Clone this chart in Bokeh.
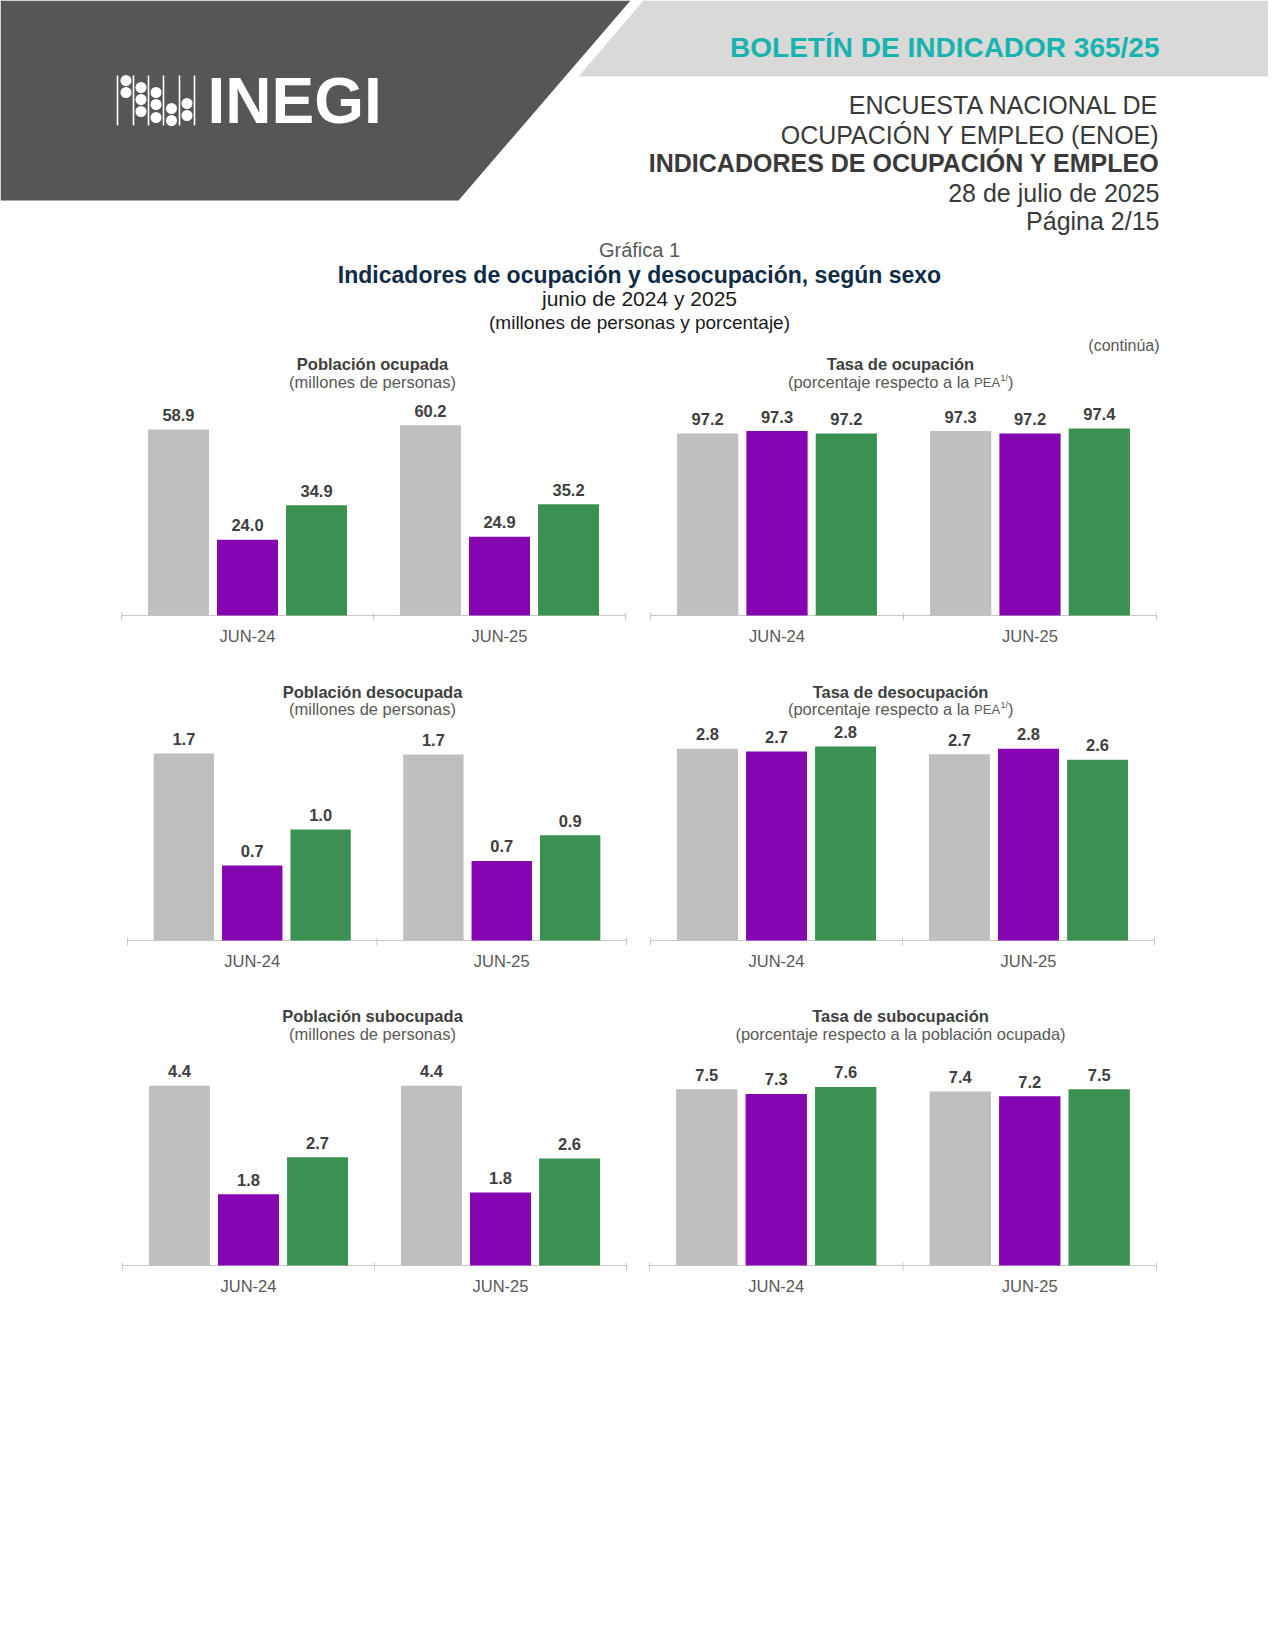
from bokeh.plotting import figure
from bokeh.models import Range1d, FactorRange, Label, ColumnDataSource
from bokeh.transform import dodge
from bokeh.layouts import column, row
from bokeh.core.properties import value
from bokeh.embed import file_html
from bokeh.resources import INLINE

FONT = "Liberation Sans"

# ---------------- data ----------------
periods = ["JUN-24", "JUN-25"]
series_keys = ["total", "mujeres", "hombres"]
series_colors = ["#bfbfbf", "#8505b3", "#3b9152"]

pob_ocupada_total = [58.9, 60.2]
pob_ocupada_mujeres = [24.0, 24.9]
pob_ocupada_hombres = [34.9, 35.2]

tasa_ocupacion_total = [97.2, 97.3]
tasa_ocupacion_mujeres = [97.3, 97.2]
tasa_ocupacion_hombres = [97.2, 97.4]

pob_desocupada_total = [1.67, 1.66]
pob_desocupada_mujeres = [0.67, 0.71]
pob_desocupada_hombres = [0.99, 0.94]

tasa_desocupacion_total = [2.78, 2.70]
tasa_desocupacion_mujeres = [2.74, 2.78]
tasa_desocupacion_hombres = [2.81, 2.62]

pob_subocupada_total = [4.44, 4.44]
pob_subocupada_mujeres = [1.76, 1.80]
pob_subocupada_hombres = [2.67, 2.64]

tasa_subocupacion_total = [7.5, 7.4]
tasa_subocupacion_mujeres = [7.3, 7.2]
tasa_subocupacion_hombres = [7.6, 7.5]

# ---------------- geometry (page pixels) ----------------
HEADER_H = 355
ROW_TOP = [355, 675, 1000]
ROW_AXIS = [615, 940, 1265]
TITLE_DY = [252, 249, 250]     # axis line -> chart title centre
SUB_DY = [234, 232, 232]       # axis line -> chart subtitle centre
BOTTOM = 60
BELOW = 6          # frame extends this far below the axis line (room for ticks)
PAD = 4            # frame extends this far beyond each end of the axis line
FIG_X0 = [0, 630]
FIG_W = [630, 638]
AXIS_LEFT = [[121, 650], [127, 650], [122, 649]]
AXIS_W = [[504, 506], [502, 504], [506, 507]]
TITLE_X = [372, 900]
BAR_W = 0.242
BAR_OFF = [-0.274, 0.0, 0.274]
AX_COLOR = "#c8c8c8"

# Arial/Liberation Sans regular advance widths (per 1000 em)
W = {" ": 278, "(": 333, ")": 333, "/": 278, "1": 556, "a": 556, "c": 500, "e": 556,
     "j": 222, "l": 222, "n": 556, "o": 556, "p": 556, "r": 333, "s": 500, "t": 278,
     "P": 667, "E": 667, "A": 667}


def tw(s, size):
    return sum(W.get(ch, 556) for ch in s) * size / 1000.0


def add_label(p, x, y, text, size, color, bold=False, align="center"):
    p.add_layout(Label(x=x, y=y, x_units="screen", y_units="screen", text=text,
                       text_align=align, text_baseline="middle", text_font=FONT,
                       text_font_style="bold" if bold else "normal",
                       text_font_size=f"{size}px", text_color=color))


def chart(r, c, title, subtitle, vals, base, px_per_unit):
    top, axis_y = ROW_TOP[r], ROW_AXIS[r]
    h = axis_y - top + BOTTOM
    n = len(periods)
    cat_px = AXIS_W[r][c] / n
    fl = AXIS_LEFT[r][c] - PAD - FIG_X0[c]
    fw = AXIS_W[r][c] + 2 * PAD
    data = dict(period=periods)
    for k, v in zip(series_keys, vals):
        data[k] = v
        data[k + "_lbl"] = [f"{x:.1f}" for x in v]
    src = ColumnDataSource(data)
    # absolute padding is added on each side of the factor span
    xr = FactorRange(factors=periods, range_padding=PAD / cat_px,
                     range_padding_units="absolute")
    yr = Range1d(base - BELOW / px_per_unit, base + (axis_y - top) / px_per_unit)
    p = figure(width=FIG_W[c], height=h, x_range=xr, y_range=yr, output_backend="svg",
               toolbar_location=None, y_axis_location=None,
               min_border_left=fl, min_border_right=FIG_W[c] - fl - fw,
               min_border_top=0, min_border_bottom=BOTTOM - BELOW,
               outline_line_color=None, background_fill_color="white",
               border_fill_color="white")
    p.grid.visible = False
    ax = p.xaxis[0]
    ax.axis_line_color = None
    ax.major_tick_line_color = None
    ax.major_tick_in = 0
    ax.major_tick_out = 0
    ax.major_label_standoff = 5
    ax.major_label_text_font = FONT
    ax.major_label_text_font_size = "16.5px"
    ax.major_label_text_color = "#595959"
    # category axis line and boundary ticks
    bounds = list(range(n + 1))
    p.segment(x0=[0], y0=[base], x1=[n], y1=[base], line_color=AX_COLOR, line_width=1)
    p.segment(x0=bounds, y0=[base - 5 / px_per_unit] * len(bounds), x1=bounds,
              y1=[base + 3 / px_per_unit] * len(bounds), line_color=AX_COLOR, line_width=1)
    for k, off, col in zip(series_keys, BAR_OFF, series_colors):
        xx = dodge("period", off, range=p.x_range)
        p.vbar(x=xx, top=k, bottom=base, width=BAR_W, source=src, fill_color=col,
               line_color=None)
        p.text(x=xx, y=k, text=k + "_lbl", source=src, text_align="center",
               text_baseline="middle", y_offset=-14.5, text_font=value(FONT),
               text_font_style="bold", text_font_size="16.5px", text_color="#404040")
    tx = TITLE_X[c] - (AXIS_LEFT[r][c] - PAD)
    ty = BELOW + TITLE_DY[r]
    sy = BELOW + SUB_DY[r]
    add_label(p, tx, ty, title, 16.5, "#404040", bold=True)
    if subtitle == "PEA":
        s1, s2, s3, s4 = "(porcentaje respecto a la ", "PEA", "1/", ")"
        f1, f2, f3 = 16.5, 13, 9
        total = tw(s1, f1) + tw(s2, f2) + tw(s3, f3) + tw(s4, f1)
        x0 = tx - total / 2
        add_label(p, x0, sy, s1, f1, "#595959", align="left")
        x0 += tw(s1, f1)
        add_label(p, x0, sy - 1.3, s2, f2, "#595959", align="left")
        x0 += tw(s2, f2)
        add_label(p, x0 + 0.5, sy + 3.5, s3, f3, "#595959", align="left")
        x0 += tw(s3, f3) + 0.5
        add_label(p, x0, sy, s4, f1, "#595959", align="left")
    else:
        add_label(p, tx, sy, subtitle, 16.5, "#595959")
    return p


# ---------------- header ----------------
HW = sum(FIG_W)
hp = figure(width=HW, height=HEADER_H, x_range=Range1d(0, HW),
            y_range=Range1d(HEADER_H, 0), output_backend="svg", toolbar_location=None,
            x_axis_location=None, y_axis_location=None, min_border=0,
            outline_line_color=None, background_fill_color="white",
            border_fill_color="white")
hp.grid.visible = False
# decorative banner shapes (page pixel coordinates)
hp.patch([0, 630, 458, 0], [0, 0, 200, 200], fill_color="#565656", line_color=None)
hp.patch([643, HW, HW, 578], [0, 0, 76, 76], fill_color="#d9d9d9", line_color=None)
# logo
logo_lines_x = [117, 133, 148, 163, 179, 194]
hp.segment(x0=logo_lines_x, y0=[75] * 6, x1=logo_lines_x, y1=[125] * 6,
           line_color="white", line_width=1.6)
hp.scatter(x=[125.5, 125.5, 140.5, 140.5, 140.5, 155.5, 155.5, 155.5, 171, 171, 186.5, 186.5],
           y=[80, 92, 87, 99, 111, 92, 104, 117, 108, 120, 103, 115],
           size=11, fill_color="white", line_color=None)
hp.text(x=[207], y=[100], text=["INEGI"], text_font=value(FONT), text_font_style="bold",
        text_font_size="64px", text_color="white", text_baseline="middle")

hp.text(x=[1159], y=[47], text=["BOLETÍN DE INDICADOR 365/25"], text_font=value(FONT),
        text_font_style="bold", text_font_size="28px", text_color="#17b3ae",
        text_align="right", text_baseline="middle")
head_lines = ["ENCUESTA NACIONAL DE", "OCUPACIÓN Y EMPLEO (ENOE)",
              "INDICADORES DE OCUPACIÓN Y EMPLEO", "28 de julio de 2025", "Página 2/15"]
head_y = [104, 134, 162, 192, 220]
for t, y in zip(head_lines, head_y):
    hp.text(x=[1159], y=[y], text=[t], text_font=value(FONT),
            text_font_style="bold" if t.startswith("INDICADORES") else "normal",
            text_font_size="25px", text_color="#3a3a3a", text_align="right",
            text_baseline="middle")

titles = [("Gráfica 1", 249, "20px", "normal", "#595959"),
          ("Indicadores de ocupación y desocupación, según sexo", 274, "23px", "bold", "#0f2b46"),
          ("junio de 2024 y 2025", 298, "21px", "normal", "#1a1a1a"),
          ("(millones de personas y porcentaje)", 322, "19px", "normal", "#1a1a1a")]
for t, y, fs, st, colr in titles:
    hp.text(x=[639], y=[y], text=[t], text_font=value(FONT), text_font_style=st,
            text_font_size=fs, text_color=colr, text_align="center", text_baseline="middle")
hp.text(x=[1159], y=[345], text=["(continúa)"], text_font=value(FONT),
        text_font_size="16px", text_color="#595959", text_align="right",
        text_baseline="middle")

# ---------------- charts ----------------
c11 = chart(0, 0, "Población ocupada", "(millones de personas)",
            [pob_ocupada_total, pob_ocupada_mujeres, pob_ocupada_hombres], 0, 3.16)
c12 = chart(0, 1, "Tasa de ocupación", "PEA",
            [tasa_ocupacion_total, tasa_ocupacion_mujeres, tasa_ocupacion_hombres],
            90, 25.27)
c21 = chart(1, 0, "Población desocupada", "(millones de personas)",
            [pob_desocupada_total, pob_desocupada_mujeres, pob_desocupada_hombres],
            0, 112.0)
c22 = chart(1, 1, "Tasa de desocupación", "PEA",
            [tasa_desocupacion_total, tasa_desocupacion_mujeres, tasa_desocupacion_hombres],
            0, 69.0)
c31 = chart(2, 0, "Población subocupada", "(millones de personas)",
            [pob_subocupada_total, pob_subocupada_mujeres, pob_subocupada_hombres],
            0, 40.5)
c32 = chart(2, 1, "Tasa de subocupación", "(porcentaje respecto a la población ocupada)",
            [tasa_subocupacion_total, tasa_subocupacion_mujeres, tasa_subocupacion_hombres],
            0, 23.5)

layout = column(hp, row(c11, c12), row(c21, c22), row(c31, c32))
open("out.html", "w").write(file_html(layout, INLINE))
